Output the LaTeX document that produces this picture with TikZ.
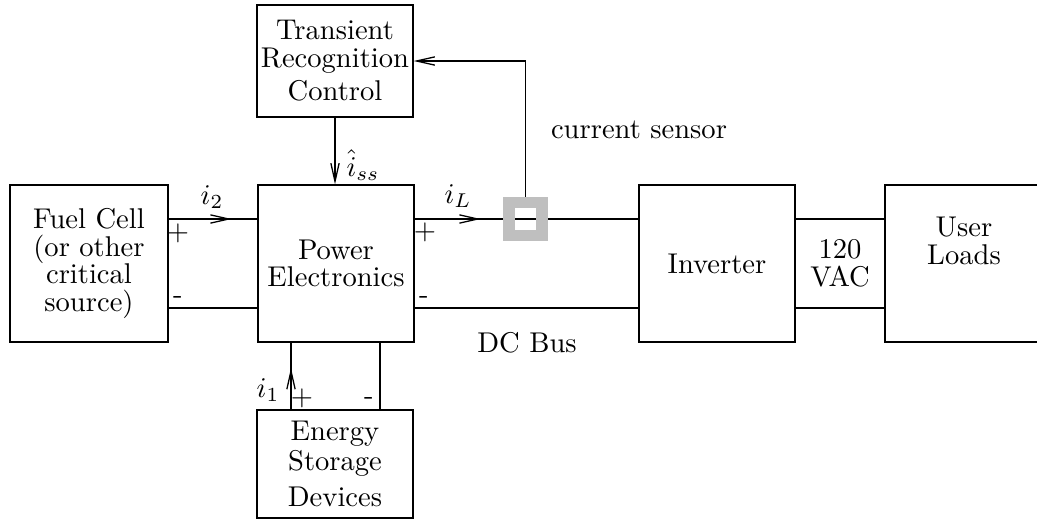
\documentclass[tikz,border=0pt]{standalone}
\usetikzlibrary{arrows.meta,decorations.markings}
\begin{document}
\begin{tikzpicture}[x=0.35pt,y=-0.35pt, line width=0.45pt,
  box/.style={draw, align=center, inner sep=0pt, font=\fontsize{10}{9.7}\selectfont},
  txt/.style={align=center, inner sep=0pt, font=\fontsize{10}{9.7}\selectfont},
  lbl/.style={inner sep=0pt},
  myto/.tip={Straight Barb[length=6.4pt,width=2.9pt]},
  arr/.style={-myto},
  midarrow/.style={postaction={decorate,decoration={markings,mark=at position #1 with {\arrow{myto}}}}}
]
\useasboundingbox (0,0) rectangle (1037,523);
\coordinate (yt) at (0,219);
\coordinate (yb) at (0,308);
\coordinate (xa) at (291,0);
\coordinate (xb) at (380,0);
% boxes
\node[box, minimum width=55.3pt, minimum height=54.95pt] (fc) at (89,263.5) {Fuel Cell\\(or other\\critical\\source)};
\node[box, minimum width=54.6pt, minimum height=54.95pt] (pe) at (336,263.5) {Power\\Electronics};
\node[box, minimum width=54.6pt, minimum height=39.2pt] (trc) at (335,61) {Transient\\Recognition\\[2pt]Control};
\node[box, minimum width=54.6pt, minimum height=37.8pt] (es) at (335,464) {Energy\\[0.8pt]Storage\\[2.8pt]Devices};
\node[box, minimum width=54.6pt, minimum height=54.95pt] (inv) at (717,263.5) {Inverter};
\node[box, minimum width=55.3pt, minimum height=54.95pt] (ul) at (964,263.5) {};
\node[txt] (ultext) at (964,241) {User\\Loads};
\node[txt] (vac) at (840,263) {120\\VAC};
% connectors
\draw[midarrow=0.71] (fc.east |- yt) -- (pe.west |- yt);
\draw (fc.east |- yb) -- (pe.west |- yb);
\draw[midarrow=0.295] (pe.east |- yt) -- (inv.west |- yt);
\draw (pe.east |- yb) -- (inv.west |- yb);
\draw (inv.east |- yt) -- (ul.west |- yt);
\draw (inv.east |- yb) -- (ul.west |- yb);
\draw[midarrow=0.62] (es.north -| xa) -- (pe.south -| xa);
\draw (pe.south -| xb) -- (es.north -| xb);
\draw[arr] (trc.south) -- (trc.south |- pe.north);
% sensor
\node[draw=gray!50, line width=4.1pt, minimum size=11.6pt, inner sep=0pt] (sens) at (525.5,219) {};
\draw[arr] (sens.north) |- (trc.east);
% labels
\node[lbl] (li2) at (212,197) {$i_2$};
\node[lbl] (p1) at (178,233) {+};
\node[lbl] (m1) at (178,300) {-};
\node[lbl] (liL) at (458,196) {$i_L$};
\node[lbl] (p2) at (425,232) {+};
\node[lbl] (m2) at (424,300) {-};
\node[lbl] (li1) at (268,390) {$i_1$};
\node[lbl] (p3) at (302,398) {+};
\node[lbl] (m3) at (369,401) {-};
\node[lbl] (liss) at (363,165) {$\hat{i}_{ss}$};
\node[lbl] (cs) at (639,130) {current sensor};
\node[lbl] (dc) at (527,343) {DC Bus};
\end{tikzpicture}
\end{document}
